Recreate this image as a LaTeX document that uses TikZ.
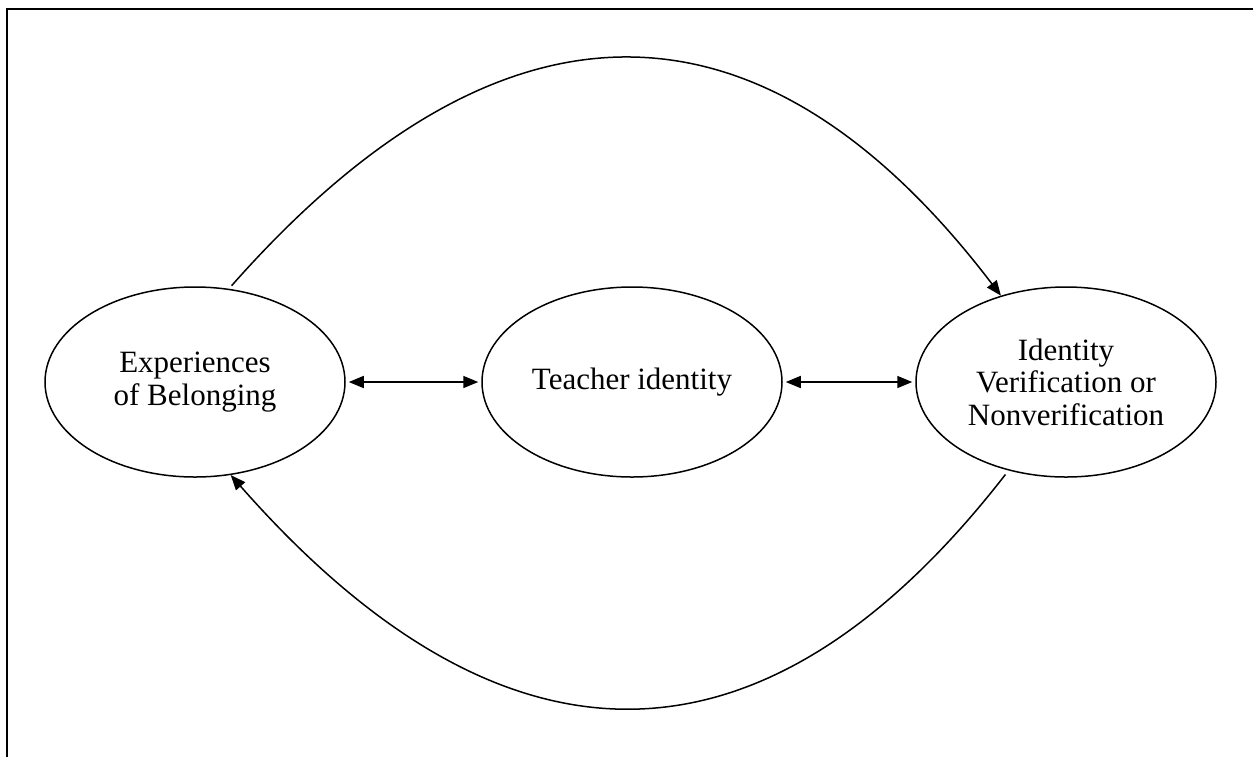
\documentclass[tikz,border=0pt]{standalone}
\usepackage{fontspec}
\setmainfont{Liberation Serif}
\usetikzlibrary{arrows.meta, shapes.geometric}

\begin{document}
\begin{tikzpicture}[
  x=0.5pt, y=-0.5pt,
  font=\fontsize{15.5}{16.2}\selectfont,
  concept/.style={draw, ellipse, line width=0.75pt, minimum width=150pt, minimum height=95pt, inner sep=0pt, align=center},
  link/.style={-{Triangle[length=7.5pt, width=6pt]}, line width=0.75pt},
  bilink/.style={{Triangle[length=7.5pt, width=6pt]}-{Triangle[length=7.5pt, width=6pt]}, line width=0.85pt, shorten <=1.5pt, shorten >=1.5pt}
]
\useasboundingbox (0,0) rectangle (1253,757);
\draw[line width=1.3pt] (7,757) -- (7,9) -- (1253,9);

\node[concept] (ebl) at (195,382) {Experiences\\of Belonging};
\node[concept] (tid) at (632,382) {Teacher identity};
\node[concept] (ivn) at (1066,382) {Identity\\Verification or\\Nonverification};

\draw[bilink] (ebl.east) -- (tid.west);
\draw[bilink] (tid.east) -- (ivn.west);

\draw[link, shorten <=2pt] (ebl.70) .. controls (505,-24) and (765,-14) .. (ivn.127);
\draw[link, shorten <=2.5pt] (ivn.237) .. controls (765,784) and (505,787) .. (ebl.291);
\end{tikzpicture}
\end{document}
